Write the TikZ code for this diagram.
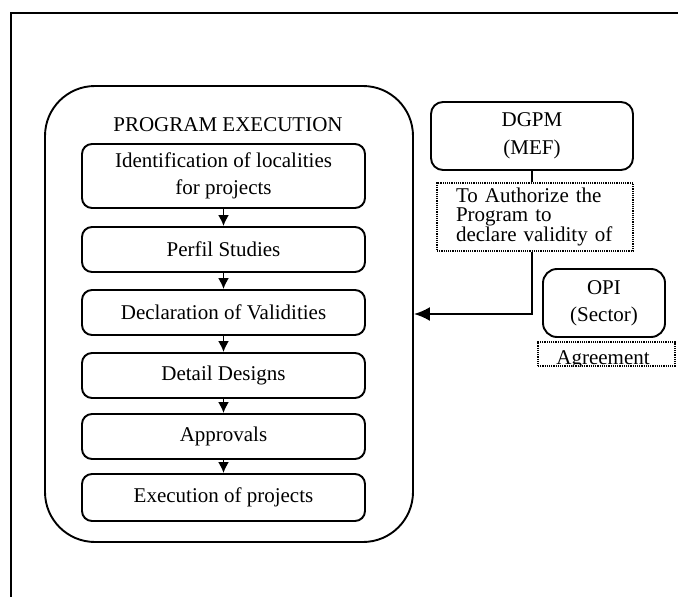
\documentclass[tikz,border=0pt]{standalone}
\usepackage{fontspec}
\setmainfont{Liberation Serif}
\usetikzlibrary{arrows.meta}
\begin{document}
\begin{tikzpicture}[x=1pt,y=-1pt,
  every node/.style={font=\fontsize{21}{27}\selectfont, inner sep=0pt},
  stagebox/.style={draw, line width=1.9pt, rounded corners=10pt,
    minimum width=283pt, align=center},
  orgbox/.style={draw, line width=1.9pt, rounded corners=12pt, align=center},
  notebox/.style={draw, densely dotted, line width=1.2pt},
  flow/.style={line width=1.8pt, -{Latex[length=11pt,width=11pt]}},
  feed/.style={line width=2pt, -{Latex[length=16pt,width=14pt]}}]
\useasboundingbox (0,0) rectangle (678,597);

% page frame (left and top edges)
\draw[line width=2.2pt] (11,597) -- (11,13) -- (678,13);

% program execution container
\node[draw, line width=1.9pt, rounded corners=50pt,
  minimum width=368pt, minimum height=456pt] (prog) at (229,314) {};
\node (progtitle) at (228,125) {PROGRAM EXECUTION};

% stages
\node[stagebox, minimum height=64pt] (s1) at (223.5,176)
  {Identification of localities\\for projects};
\node[stagebox, minimum height=45pt] (s2) at (223.5,249.5) {Perfil Studies};
\node[stagebox, minimum height=45pt] (s3) at (223.5,312.5) {Declaration of Validities};
\node[stagebox, minimum height=45pt] (s4) at (223.5,375.5) {Detail Designs};
\node[stagebox, minimum height=45pt] (s5) at (223.5,436.5) {Approvals};
\node[stagebox, minimum height=47pt] (s6) at (223.5,497.5) {Execution of projects};

\foreach \a/\b in {s1/s2,s2/s3,s3/s4,s4/s5,s5/s6}
  \draw[flow] (\a.south) -- (\b.north);

% DGPM authorization
\node[orgbox, minimum width=202pt, minimum height=68pt] (dgpm) at (532,136)
  {DGPM\\[1pt](MEF)};
\node[notebox, minimum width=196pt, minimum height=68pt, inner xsep=19pt,
  text width=158pt, align=left,
  font=\fontsize{21}{19}\selectfont] (auth) at (535,217)
  {To Authorize the\\Program to\\declare validity of};
\draw[line width=1.9pt] (dgpm.south) -- (auth.north -| dgpm.south);
\draw[feed] (auth.south -| dgpm.south) |- (prog.east);

% OPI agreement
\node[orgbox, rounded corners=14pt, minimum width=122pt, minimum height=68pt]
  (opi) at (604,303) {OPI\\(Sector)};
\node[notebox, minimum width=137pt, minimum height=24pt] (agr) at (606.5,354) {};
\begin{scope}
  \clip (agr.south west) rectangle (agr.north east);
  \node[anchor=base] (agrtext) at (603,364) {Agreement};
\end{scope}
\end{tikzpicture}
\end{document}
